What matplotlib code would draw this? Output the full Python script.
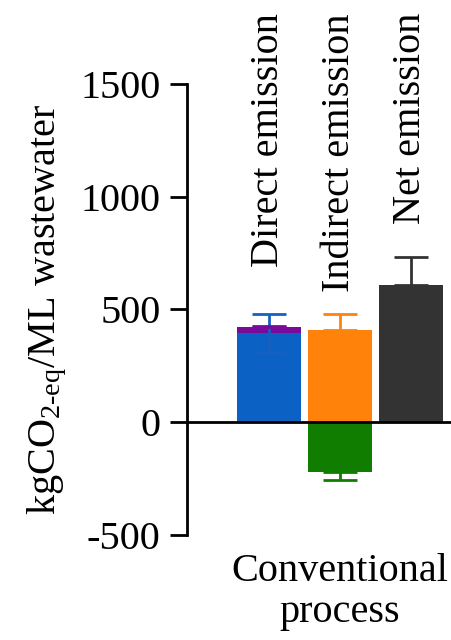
import matplotlib
matplotlib.use("Agg")
import matplotlib.pyplot as plt
import matplotlib.transforms as mtransforms

plt.rcParams['font.family'] = ['Liberation Serif', 'DejaVu Serif']
plt.rcParams['mathtext.fontset'] = 'custom'
plt.rcParams['mathtext.rm'] = 'Liberation Serif'
plt.rcParams['mathtext.it'] = 'Liberation Serif:italic'

# data
categories = ["Direct emission", "Indirect emission", "Net emission"]
positive = [395, 408, 608]
positive_err = [84, 71, 124]
positive_colors = ['#0B62C4', '#FF820A', '#333333']
direct_extra = 26      # purple segment stacked on direct emission
direct_extra_err = 5
indirect_negative = -222
indirect_negative_err = 35
group_label = "Conventional\nprocess"

FS = 29

fig = plt.figure(figsize=(4.52, 6.4), dpi=100)
ax = fig.add_axes([0.4137, 0.164, 0.586, 0.705])

x = list(range(len(categories)))
w = 0.9
ax.bar(x, positive, width=w, color=positive_colors, zorder=2)
ax.bar([0], [direct_extra], bottom=[positive[0]], width=w, color='#7A0A9A', zorder=2)
ax.bar([1], [indirect_negative], width=w, color='#117D00', zorder=2)

ekw = dict(capsize=12, elinewidth=2, capthick=2, zorder=3, fmt='none')
ax.errorbar([0], [positive[0]], yerr=[positive_err[0]], ecolor='#1560C0', **ekw)
ax.errorbar([0], [positive[0] + direct_extra], yerr=[[0], [direct_extra_err]],
            ecolor='#7A0A9A', **ekw)
ax.errorbar([1], [positive[1]], yerr=[[0], [positive_err[1]]], ecolor='#FF820A', **ekw)
ax.errorbar([1], [indirect_negative], yerr=[[indirect_negative_err], [0]],
            ecolor='#117D00', **ekw)
ax.errorbar([2], [positive[2]], yerr=[[0], [positive_err[2]]], ecolor='#333333', **ekw)

ax.axhline(0, color='black', lw=2, zorder=4, clip_on=False)

ax.set_xlim(-1.155, 2.58)
ax.set_ylim(-500, 1500)
ax.set_yticks([-500, 0, 500, 1000, 1500])
ax.set_yticklabels(['-500', '0', '500', '1000', '1500'])
ax.set_xticks([])
for s in ['top', 'right', 'bottom']:
    ax.spines[s].set_visible(False)
ax.spines['left'].set_linewidth(2)
ax.tick_params(axis='y', direction='out', length=12, width=2, labelsize=FS, pad=7)

ax.set_ylabel('kgCO$_{2\\mathrm{\u2010eq}}$/ML wastewater', fontsize=FS, labelpad=8)

trans = mtransforms.blended_transform_factory(ax.transData, ax.transAxes)
for xi, name in zip(x, categories):
    ax.text(xi, 1.157, name, rotation=90, ha='center', va='top', fontsize=FS,
            transform=trans, clip_on=False)
ax.text(1, -0.04, group_label, ha='center', va='top', fontsize=FS,
        linespacing=1.15, transform=trans)

fig.savefig('out.png', dpi=100)
